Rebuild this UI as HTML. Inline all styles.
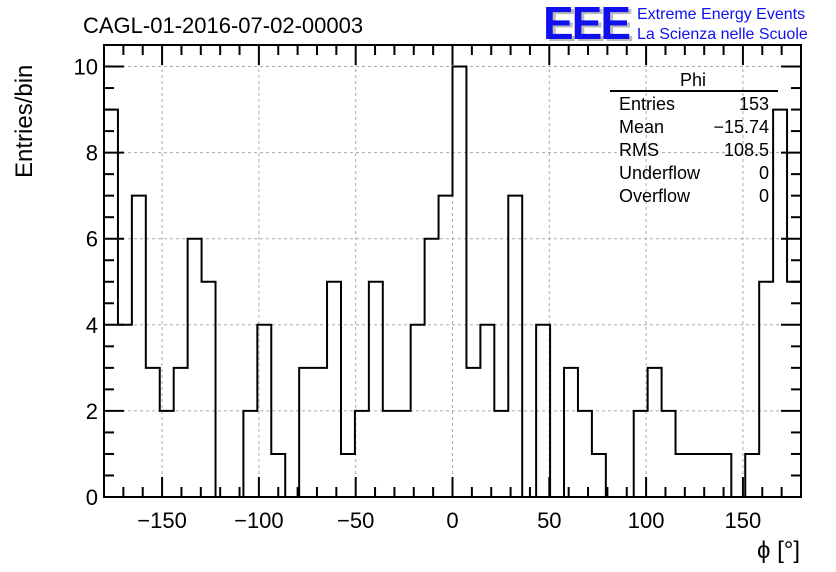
<!DOCTYPE html>
<html><head><meta charset="utf-8"><style>
html,body{margin:0;padding:0;background:#fff}
svg{display:block;font-family:"Liberation Sans",Arial,sans-serif}
</style></head><body>
<svg id="c" width="836" height="572" viewBox="0 0 836 572">
<text x="83" y="33" font-size="22">CAGL-01-2016-07-02-00003</text>
<g>
<text x="546" y="41" font-size="46" fill="#bbb" font-weight="bold" letter-spacing="-2">EEE</text>
<text x="543" y="39" font-size="46" fill="#1010ee" font-weight="bold" letter-spacing="-2">EEE</text>
<text x="637" y="19" font-size="16" fill="#1010ee">Extreme Energy Events</text>
<text x="637" y="39" font-size="16" fill="#1010ee">La Scienza nelle Scuole</text>
</g>
<g id="grid"></g>
<path id="hist" fill="none" stroke="#000" stroke-width="2"/>
<g id="axes"></g>
<g font-size="18">
<text x="693" y="86" text-anchor="middle">Phi</text>
<line x1="610" y1="91" x2="778" y2="91" stroke="#000" stroke-width="2"/>
<text x="619" y="110">Entries</text><text x="769" y="110" text-anchor="end">153</text>
<text x="619" y="133">Mean</text><text x="769" y="133" text-anchor="end">−15.74</text>
<text x="619" y="156">RMS</text><text x="769" y="156" text-anchor="end">108.5</text>
<text x="619" y="179">Underflow</text><text x="769" y="179" text-anchor="end">0</text>
<text x="619" y="202">Overflow</text><text x="769" y="202" text-anchor="end">0</text>
</g>
<text x="800" y="558" font-size="24" text-anchor="end">ϕ [°]</text>
<text transform="translate(32,178) rotate(-90)" font-size="24">Entries/bin</text>
</svg>
<script>
const counts=[9,4,7,3,2,3,6,5,0,0,2,4,1,0,3,3,5,1,2,5,2,2,4,6,7,10,3,4,2,7,0,4,0,3,2,1,0,0,2,3,2,1,1,1,1,0,1,5,9,5];
const xTicks=[-150,-100,-50,0,50,100,150];
const yTicks=[0,2,4,6,8,10];
const xMin=-180,xMax=180,yMax=10.5;
const L=104,R=801,T=45,B=497;
const X=v=>L+(v-xMin)/(xMax-xMin)*(R-L);
const Y=v=>B-v/yMax*(B-T);
const NS='http://www.w3.org/2000/svg';
function mk(t,a,p){const e=document.createElementNS(NS,t);for(const k in a)e.setAttribute(k,a[k]);p.appendChild(e);return e;}
const grid=document.getElementById('grid'),axes=document.getElementById('axes');
xTicks.forEach(v=>{const l=mk('line',{x1:X(v),x2:X(v),y1:T,y2:B,stroke:'#aaa','stroke-dasharray':'3,3'},grid);

});
yTicks.forEach(v=>{if(v===0)return;const l=mk('line',{x1:L,x2:R,y1:Y(v),y2:Y(v),stroke:'#aaa','stroke-dasharray':'3,3'},grid);

});
const bw=(xMax-xMin)/counts.length;
let d='M'+X(xMin)+','+Y(0);
counts.forEach((c,i)=>{d+=' L'+X(xMin+i*bw)+','+Y(c)+' L'+X(xMin+(i+1)*bw)+','+Y(c);});
d+=' L'+X(xMax)+','+Y(0);
document.getElementById('hist').setAttribute('d',d);
mk('rect',{x:L,y:T,width:R-L,height:B-T,fill:'none',stroke:'#000','stroke-width':2},axes);
for(let v=-170;v<=170;v+=10){const maj=v%50===0;const len=maj?20:10;
mk('line',{x1:X(v),x2:X(v),y1:B,y2:B-len,stroke:'#000','stroke-width':2},axes);
mk('line',{x1:X(v),x2:X(v),y1:T,y2:T+len,stroke:'#000','stroke-width':2},axes);}
for(let v=0;v<=10.01;v+=0.5){const maj=Math.abs(v-Math.round(v/2)*2)<1e-6;const len=maj?20:10;
mk('line',{x1:L,x2:L+len,y1:Y(v),y2:Y(v),stroke:'#000','stroke-width':2},axes);
mk('line',{x1:R,x2:R-len,y1:Y(v),y2:Y(v),stroke:'#000','stroke-width':2},axes);}
xTicks.forEach(v=>{const t=mk('text',{x:X(v),y:B+31,'font-size':22,'text-anchor':'middle'},axes);t.textContent=(v<0?'−':'')+Math.abs(v);

});
yTicks.forEach(v=>{const t=mk('text',{x:L-6,y:Y(v)+8,'font-size':22,'text-anchor':'end'},axes);t.textContent=v;

});
</script>
</body></html>
